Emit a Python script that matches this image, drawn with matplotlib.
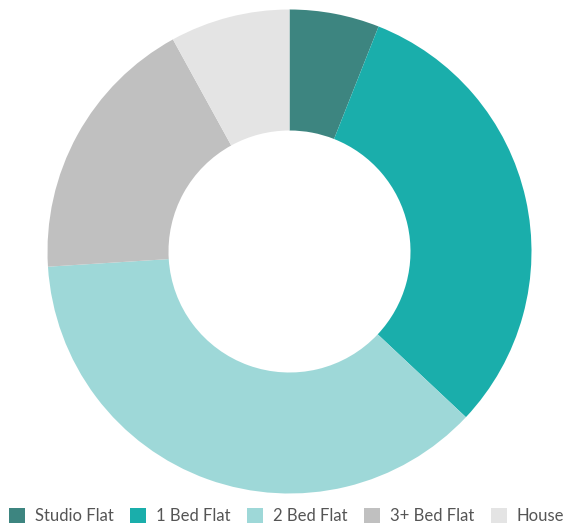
import matplotlib.pyplot as plt
from matplotlib.patches import Patch

# Share of properties by type
labels = ['Studio Flat', '1 Bed Flat', '2 Bed Flat', '3+ Bed Flat', 'House']
shares = [6, 31, 37, 18, 8]
colors = ['#3d8580', '#1aaeab', '#9ed8d8', '#c0c0c0', '#e4e4e4']

W, H = 573, 528
fig = plt.figure(figsize=(W / 100, H / 100), dpi=100)

# Donut placed by pixel center / radius
cx, cy, r = 289.5, 251.5, 242
ax = fig.add_axes([(cx - r) / W, (H - cy - r) / H, 2 * r / W, 2 * r / H])
ax.pie(shares, colors=colors, startangle=90, counterclock=False, radius=1,
       wedgeprops=dict(width=0.5, linewidth=0))
ax.set_xlim(-1, 1)
ax.set_ylim(-1, 1)
ax.set_aspect('equal')
ax.axis('off')

# Legend along the bottom
handles = [Patch(facecolor=c, edgecolor='none') for c in colors]
fig.legend(handles, labels, loc='center', bbox_to_anchor=(0.5, 1 - 516 / H),
           ncol=5, frameon=False, handlelength=0.95, handleheight=1.0,
           handletextpad=0.6, columnspacing=1.0,
           prop={'family': 'Lato', 'size': 12},
           labelcolor='#555555')

fig.savefig('out.png', dpi=100)
